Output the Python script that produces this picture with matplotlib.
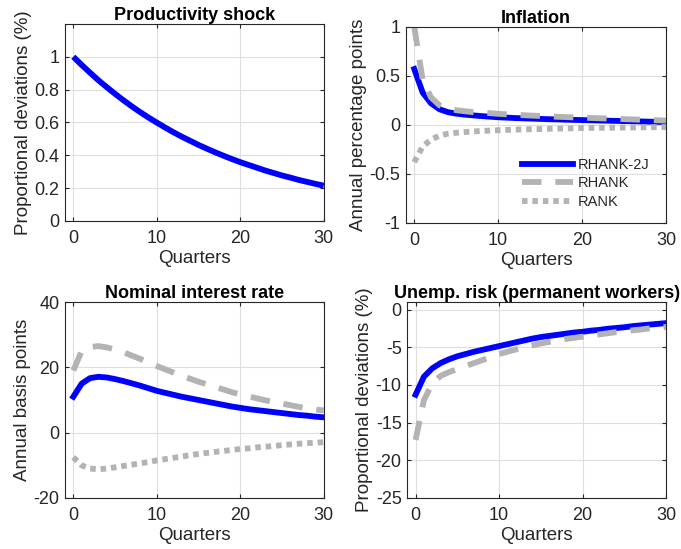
import numpy as np
import matplotlib
matplotlib.use("Agg")
import matplotlib.pyplot as plt
from matplotlib.ticker import FormatStrFormatter

plt.rcParams['font.family'] = ['Liberation Sans', 'DejaVu Sans']
plt.rcParams['lines.scale_dashes'] = False

quarters = np.arange(31)

# Productivity shock (%)
productivity = [1.000, 0.950, 0.903, 0.857, 0.815, 0.774, 0.735, 0.698, 0.663, 0.630,
                0.599, 0.569, 0.540, 0.513, 0.488, 0.463, 0.440, 0.418, 0.397, 0.377,
                0.358, 0.341, 0.324, 0.307, 0.292, 0.277, 0.264, 0.250, 0.238, 0.226, 0.215]

# Inflation (annual percentage points)
infl_rhank2j = [0.57, 0.33, 0.22, 0.16, 0.13, 0.115, 0.105, 0.097, 0.090, 0.084,
                0.078, 0.074, 0.070, 0.067, 0.064, 0.061, 0.058, 0.056, 0.053, 0.051,
                0.049, 0.047, 0.045, 0.043, 0.041, 0.039, 0.037, 0.035, 0.033, 0.031, 0.029]
infl_rhank = [1.00, 0.46, 0.28, 0.20, 0.17, 0.15, 0.14, 0.13, 0.125, 0.12,
              0.113, 0.108, 0.103, 0.099, 0.095, 0.091, 0.087, 0.083, 0.080, 0.077,
              0.074, 0.071, 0.068, 0.065, 0.062, 0.059, 0.056, 0.053, 0.050, 0.047, 0.044]
infl_rank = [-0.38, -0.22, -0.15, -0.11, -0.09, -0.08, -0.073, -0.067, -0.062, -0.058,
             -0.054, -0.051, -0.048, -0.046, -0.044, -0.042, -0.040, -0.038, -0.036, -0.034,
             -0.032, -0.031, -0.030, -0.029, -0.028, -0.027, -0.026, -0.025, -0.024, -0.023, -0.022]

# Nominal interest rate (annual basis points)
rate_rhank2j = [11.0, 15.0, 16.7, 17.1, 16.9, 16.4, 15.8, 15.1, 14.4, 13.6,
                12.8, 12.2, 11.6, 11.0, 10.5, 10.0, 9.5, 9.0, 8.5, 8.0,
                7.6, 7.2, 6.9, 6.6, 6.3, 6.0, 5.7, 5.4, 5.2, 4.9, 4.7]
rate_rhank = [19.0, 25.0, 26.2, 26.5, 26.1, 25.5, 24.6, 23.6, 22.6, 21.5,
              20.4, 19.4, 18.4, 17.4, 16.5, 15.6, 14.8, 14.0, 13.2, 12.4,
              11.7, 11.1, 10.5, 9.9, 9.4, 8.9, 8.4, 7.9, 7.5, 7.1, 6.8]
rate_rank = [-7.5, -10.0, -11.0, -11.2, -11.0, -10.6, -10.2, -9.8, -9.4, -9.0,
             -8.5, -8.1, -7.7, -7.3, -6.9, -6.5, -6.2, -5.9, -5.6, -5.3,
             -5.0, -4.8, -4.5, -4.3, -4.1, -3.8, -3.6, -3.4, -3.2, -3.1, -2.9]

# Unemployment risk, permanent workers (%)
unemp_rhank2j = [-11.3, -8.9, -7.8, -7.1, -6.6, -6.2, -5.9, -5.6, -5.35, -5.1,
                 -4.85, -4.6, -4.35, -4.1, -3.85, -3.65, -3.5, -3.35, -3.2, -3.05,
                 -2.95, -2.8, -2.7, -2.55, -2.45, -2.35, -2.2, -2.1, -2.0, -1.9, -1.8]
unemp_rhank = [-17.3, -12.0, -9.8, -8.8, -8.3, -7.9, -7.5, -7.1, -6.7, -6.3,
               -5.9, -5.6, -5.3, -5.0, -4.75, -4.5, -4.3, -4.1, -3.9, -3.75,
               -3.6, -3.45, -3.3, -3.15, -3.0, -2.9, -2.75, -2.65, -2.5, -2.4, -2.3]

blue = (0, 0, 1)
gray = (0.7, 0.7, 0.7)
dark = (0.15, 0.15, 0.15)
lw = 4.2
dash = (0, (14, 10))
dot = (0, (4, 3.5))


def style_axes(ax, title, ylabel, ylim, yticks):
    ax.set_xlim(-1, 30)
    ax.set_ylim(*ylim)
    ax.set_xticks([0, 10, 20, 30])
    ax.set_yticks(yticks)
    ax.yaxis.set_major_formatter(FormatStrFormatter('%g'))
    ax.set_title(title, fontsize=13, fontweight='bold', pad=3)
    ax.set_xlabel('Quarters', fontsize=13.5, color=dark, labelpad=2)
    ax.set_ylabel(ylabel, fontsize=13.5, color=dark, labelpad=2)
    ax.grid(True, color=(0.87, 0.87, 0.87), linewidth=0.8)
    ax.set_axisbelow(True)
    ax.tick_params(direction='in', length=3, labelsize=13, colors=dark,
                   top=True, right=True, pad=4)
    ax.tick_params(axis='x', pad=6.5)
    for s in ax.spines.values():
        s.set_color(dark)
        s.set_linewidth(0.8)


fig = plt.figure(figsize=(6.81, 5.49), dpi=100)

ax1 = fig.add_axes([0.0954, 0.5975, 0.380, 0.359])
ax1.plot(quarters, productivity, color=blue, linewidth=lw, solid_capstyle='butt')
style_axes(ax1, 'Productivity shock', 'Proportional deviations (%)', (0, 1.2),
           [0, 0.2, 0.4, 0.6, 0.8, 1])

ax2 = fig.add_axes([0.596, 0.594, 0.382, 0.357])
ax2.plot(quarters, infl_rhank2j, color=blue, linewidth=lw, label='RHANK-2J')
ax2.plot(quarters, infl_rhank, color=gray, linewidth=lw, linestyle=dash, label='RHANK')
ax2.plot(quarters, infl_rank, color=gray, linewidth=lw, linestyle=dot, label='RANK')
style_axes(ax2, 'Inflation', 'Annual percentage points', (-1, 1), [-1, -0.5, 0, 0.5, 1])
ax2.legend(loc='lower right', frameon=False, fontsize=10.5, handlelength=3.5,
           handletextpad=0.3, labelspacing=0.3, bbox_to_anchor=(0.985, 0.005),
           labelcolor=dark)

ax3 = fig.add_axes([0.0954, 0.0929, 0.380, 0.357])
ax3.plot(quarters, rate_rhank2j, color=blue, linewidth=lw)
ax3.plot(quarters, rate_rhank, color=gray, linewidth=lw, linestyle=dash)
ax3.plot(quarters, rate_rank, color=gray, linewidth=lw, linestyle=dot)
style_axes(ax3, 'Nominal interest rate', 'Annual basis points', (-20, 40), [-20, 0, 20, 40])

ax4 = fig.add_axes([0.598, 0.0929, 0.380, 0.357])
ax4.plot(quarters, unemp_rhank2j, color=blue, linewidth=lw)
ax4.plot(quarters, unemp_rhank, color=gray, linewidth=lw, linestyle=dash)
style_axes(ax4, 'Unemp. risk (permanent workers)', 'Proportional deviations (%)', (-25, 1),
           [-25, -20, -15, -10, -5, 0])

fig.savefig('out.png', dpi=100)
